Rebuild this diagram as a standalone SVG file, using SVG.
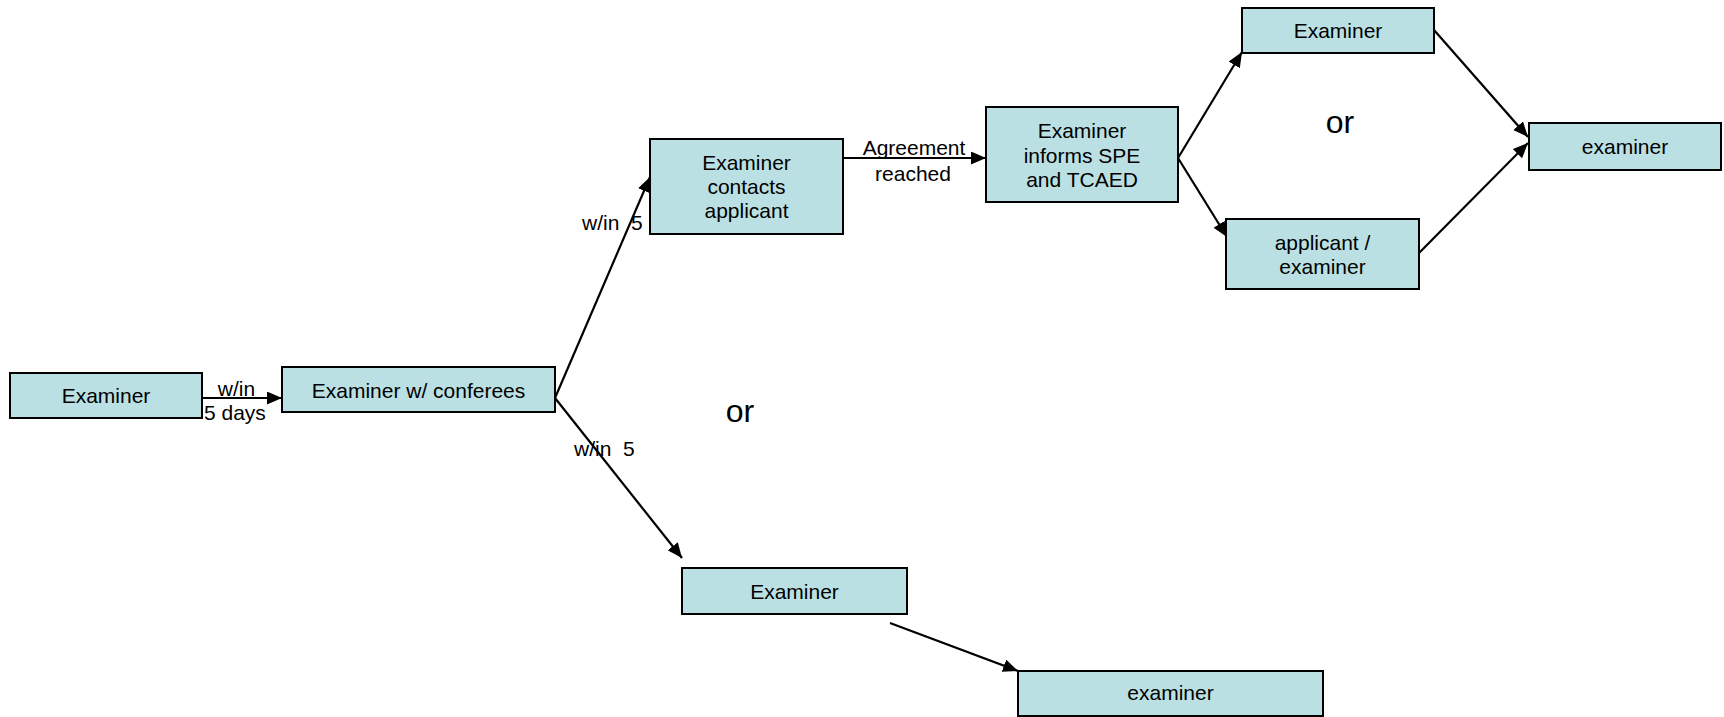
<svg xmlns="http://www.w3.org/2000/svg" width="1724" height="717" viewBox="0 0 1724 717">
  <defs>
    <marker id="arrow" markerUnits="userSpaceOnUse" markerWidth="16" markerHeight="14" refX="15" refY="6.5" orient="auto">
      <path d="M0,0 L15,6.5 L0,13 z" fill="#000"/>
    </marker>
    <style>
      .box { fill: #BBE0E3; stroke: #000; stroke-width: 2; }
      .lbl { font-family: "Liberation Sans", Arial, sans-serif; font-size: 21px; fill: #000; text-anchor: middle; }
      .elbl { font-family: "Liberation Sans", Arial, sans-serif; font-size: 21px; fill: #000; }
      .or { font-family: "Liberation Sans", Arial, sans-serif; font-size: 32px; fill: #000; text-anchor: middle; }
      .edge { stroke: #000; stroke-width: 2.2; fill: none; marker-end: url(#arrow); }
    </style>
  </defs>
  <rect width="1724" height="717" fill="#fff"/>

  <!-- connectors and their labels (drawn beneath the boxes) -->
  <g id="connectors">
    <line class="edge" x1="202" y1="398" x2="282" y2="398"/>
    <text class="elbl" x="236.5" y="396" text-anchor="middle">w/in</text>
    <text class="elbl" x="204" y="420">5 days</text>

    <line class="edge" x1="555" y1="398" x2="650" y2="177"/>
    <text class="elbl" x="582" y="230" xml:space="preserve">w/in  5 days</text>

    <line class="edge" x1="555" y1="398" x2="682" y2="558"/>
    <text class="elbl" x="574" y="456" xml:space="preserve">w/in  5</text>

    <line class="edge" x1="843" y1="158" x2="986" y2="158"/>
    <text class="elbl" x="914" y="155" text-anchor="middle">Agreement</text>
    <text class="elbl" x="913" y="181" text-anchor="middle">reached</text>

    <line class="edge" x1="1178" y1="158" x2="1242" y2="52"/>
    <line class="edge" x1="1178" y1="158" x2="1227" y2="237"/>
    <line class="edge" x1="1434" y1="30" x2="1528" y2="137"/>
    <line class="edge" x1="1419" y1="253" x2="1528" y2="143"/>
    <line class="edge" x1="890" y1="623" x2="1018" y2="671"/>
  </g>

  <text class="or" x="740" y="422">or</text>
  <text class="or" x="1340" y="133">or</text>

  <g id="n-examiner-start">
    <rect class="box" x="10" y="373" width="192" height="45"/>
    <text class="lbl" x="106" y="403">Examiner</text>
  </g>
  <g id="n-conferees">
    <rect class="box" x="282" y="367" width="273" height="45"/>
    <text class="lbl" x="418.5" y="398">Examiner w/ conferees</text>
  </g>
  <g id="n-contacts">
    <rect class="box" x="650" y="139" width="193" height="95"/>
    <text class="lbl" x="746.5" y="170">Examiner</text>
    <text class="lbl" x="746.5" y="194">contacts</text>
    <text class="lbl" x="746.5" y="218">applicant</text>
  </g>
  <g id="n-informs">
    <rect class="box" x="986" y="107" width="192" height="95"/>
    <text class="lbl" x="1082" y="138">Examiner</text>
    <text class="lbl" x="1082" y="162.5">informs SPE</text>
    <text class="lbl" x="1082" y="187">and TCAED</text>
  </g>
  <g id="n-examiner-top">
    <rect class="box" x="1242" y="8" width="192" height="45"/>
    <text class="lbl" x="1338" y="38">Examiner</text>
  </g>
  <g id="n-applicant-examiner">
    <rect class="box" x="1226" y="219" width="193" height="70"/>
    <text class="lbl" x="1322.5" y="250">applicant /</text>
    <text class="lbl" x="1322.5" y="274">examiner</text>
  </g>
  <g id="n-examiner-right">
    <rect class="box" x="1529" y="123" width="192" height="47"/>
    <text class="lbl" x="1625" y="154">examiner</text>
  </g>
  <g id="n-examiner-bottom">
    <rect class="box" x="682" y="568" width="225" height="46"/>
    <text class="lbl" x="794.5" y="599">Examiner</text>
  </g>
  <g id="n-examiner-final">
    <rect class="box" x="1018" y="671" width="305" height="45"/>
    <text class="lbl" x="1170.5" y="700">examiner</text>
  </g>
</svg>
